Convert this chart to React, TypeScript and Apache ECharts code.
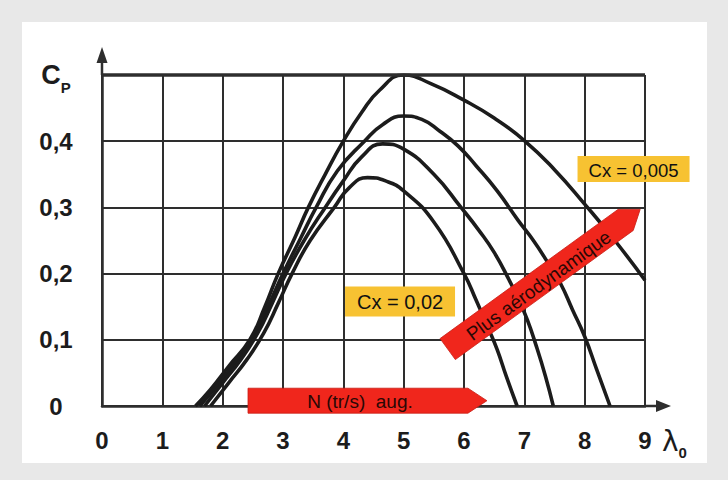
import React, { useEffect, useRef } from 'react';
import * as echarts from 'echarts';

// ---------- data ----------
const lambdaTicks = [0, 1, 2, 3, 4, 5, 6, 7, 8, 9];
const cpTickLabels = ['0', '0,1', '0,2', '0,3', '0,4', 'Cp'];

// Cp(λ0) curves (λ0, Cp)
const curveCx0005: [number, number][] = [
  [1.55, 0], [1.8, 0.025], [2.1, 0.06], [2.45, 0.1], [2.7, 0.15], [2.92, 0.2], [3.2, 0.255],
  [3.42, 0.3], [3.7, 0.35], [4.0, 0.4], [4.3, 0.443], [4.6, 0.477], [5.0, 0.5], [5.45, 0.487],
  [6.0, 0.462], [6.5, 0.435], [7.0, 0.401], [7.5, 0.357], [8.0, 0.305], [8.5, 0.25], [9.0, 0.19],
];
const curveB: [number, number][] = [
  [1.62, 0], [1.9, 0.03], [2.2, 0.065], [2.5, 0.105], [2.75, 0.15], [3.0, 0.2], [3.3, 0.255],
  [3.55, 0.3], [3.9, 0.355], [4.35, 0.4], [4.65, 0.425], [5.0, 0.438], [5.3, 0.433], [5.6, 0.415],
  [5.9, 0.393], [6.2, 0.363], [6.55, 0.325], [6.9, 0.28], [7.15, 0.25], [7.4, 0.215], [7.6, 0.185],
  [7.8, 0.145], [8.0, 0.105], [8.2, 0.055], [8.42, 0],
];
const curveC: [number, number][] = [
  [1.7, 0], [2.0, 0.035], [2.3, 0.07], [2.58, 0.11], [2.82, 0.155], [3.05, 0.2], [3.35, 0.25],
  [3.7, 0.3], [4.0, 0.34], [4.3, 0.376], [4.65, 0.396], [5.0, 0.388], [5.5, 0.35], [5.95, 0.3],
  [6.25, 0.265], [6.5, 0.232], [6.75, 0.19], [6.9, 0.162], [7.05, 0.13], [7.2, 0.09], [7.35, 0.045],
  [7.48, 0],
];
const curveCx002: [number, number][] = [
  [1.8, 0], [2.1, 0.035], [2.4, 0.07], [2.68, 0.11], [2.92, 0.155], [3.15, 0.2], [3.45, 0.25],
  [3.85, 0.3], [4.1, 0.33], [4.4, 0.345], [4.7, 0.34], [5.0, 0.325], [5.5, 0.278], [6.0, 0.2],
  [6.2, 0.16], [6.4, 0.118], [6.55, 0.085], [6.7, 0.045], [6.88, 0],
];

// annotations, anchored in data coordinates (λ0, Cp)
const labelCx0005 = { text: 'Cx = 0,005', at: [8.81, 0.358] as [number, number] };
const labelCx002 = { text: 'Cx = 0,02', at: [4.94, 0.158] as [number, number] };
const arrowN = { text: 'N (tr/s)  aug.', from: [2.42, 0.008] as [number, number], to: [6.38, 0.008] as [number, number] };
const arrowAero = { text: 'Plus aérodynamique', from: [5.73, 0.086] as [number, number], to: [8.92, 0.297] as [number, number] };

const INK = '#1c1c1c';
const GRIDC = '#2e2e2e';
const RED = '#f0261c';
const YELLOW = '#f7c232';
const TICKF = "'Liberation Sans',Arial,sans-serif";
const ARIAL = "'Liberation Sans',Arial,sans-serif";

export default function App() {
  const ref = useRef<HTMLDivElement>(null);

  useEffect(() => {
    const chart = echarts.init(ref.current!, null, { renderer: 'svg' });
    const curveStyle = { color: INK, width: 3.6 };
    const mk = (name: string, data: [number, number][]) => ({
      type: 'line', name, data, showSymbol: false, smooth: 0.5,
      lineStyle: curveStyle, z: 3, silent: true,
    });
    chart.setOption({
      animation: false,
      grid: { left: 102, right: 83, top: 75, bottom: 74, containLabel: false, outerBoundsMode: 'none' },
      xAxis: {
        type: 'value', min: 0, max: 9, interval: 1,
        axisLine: { show: true, lineStyle: { color: GRIDC, width: 2.5 } },
        axisTick: { show: false },
        splitLine: { show: true, lineStyle: { color: GRIDC, width: 2 } },
        axisLabel: {
          margin: 22, color: INK, fontFamily: TICKF, fontWeight: 'bold', fontSize: 24,
          formatter: (v: number) => String(lambdaTicks[Math.round(v)]),
        },
      },
      yAxis: {
        type: 'value', min: 0, max: 0.5, interval: 0.1,
        axisLine: { show: true, lineStyle: { color: GRIDC, width: 2.5 } },
        axisTick: { show: false },
        splitLine: { show: true, lineStyle: { color: GRIDC, width: 2 } },
        axisLabel: {
          margin: 46, align: 'center', color: INK, fontFamily: TICKF, fontWeight: 'bold', fontSize: 24,
          formatter: (v: number) => {
            const i = Math.round(v * 10);
            return i === 5 ? '{c|C}{p|P}' : cpTickLabels[i];
          },
          rich: {
            c: { fontFamily: TICKF, fontWeight: 'bold', fontSize: 27, color: INK, lineHeight: 28 },
            p: { fontFamily: TICKF, fontWeight: 'bold', fontSize: 15, color: INK, lineHeight: 40, verticalAlign: 'bottom' },
          },
        },
      },
      series: [
        mk('Cx = 0,005', curveCx0005),
        mk('B', curveB),
        mk('C', curveC),
        mk('Cx = 0,02', curveCx002),
      ],
    });

    const px = (p: [number, number]) => chart.convertToPixel({ gridIndex: 0 }, p) as number[];
    const o = px([0, 0]);
    const tr = px([9, 0.5]);
    const xEnd = px([9, 0]);
    const g: any[] = [];

    // thick top border
    g.push({ type: 'line', shape: { x1: o[0], y1: tr[1], x2: tr[0], y2: tr[1] }, style: { stroke: GRIDC, lineWidth: 3.5 }, z: 5 });
    // axis arrows
    g.push({ type: 'line', shape: { x1: o[0], y1: tr[1], x2: o[0], y2: tr[1] - 16 }, style: { stroke: GRIDC, lineWidth: 2.5 }, z: 5 });
    g.push({ type: 'polygon', shape: { points: [[o[0], tr[1] - 28], [o[0] - 5.5, tr[1] - 12], [o[0] + 5.5, tr[1] - 12]] }, style: { fill: GRIDC }, z: 5 });
    g.push({ type: 'line', shape: { x1: xEnd[0], y1: o[1], x2: xEnd[0] + 14, y2: o[1] }, style: { stroke: GRIDC, lineWidth: 2.5 }, z: 5 });
    g.push({ type: 'polygon', shape: { points: [[xEnd[0] + 26, o[1]], [xEnd[0] + 11, o[1] - 6], [xEnd[0] + 11, o[1] + 6]] }, style: { fill: GRIDC }, z: 5 });
    // λ0 axis name
    g.push({
      type: 'text', x: xEnd[0] + 17, y: o[1] + 35, z: 5,
      style: {
        text: '{l|λ}{s|0}', verticalAlign: 'middle', align: 'left',
        rich: {
          l: { fontFamily: "'DejaVu Sans',sans-serif", fontSize: 28, fill: INK, lineHeight: 28 },
          s: { fontFamily: TICKF, fontWeight: 'bold', fontSize: 15, fill: INK, lineHeight: 38, verticalAlign: 'bottom' },
        },
      },
    });

    // yellow labels
    const box = (lab: { text: string; at: [number, number] }, w: number, h: number, fs: number) => {
      const c = px(lab.at);
      g.push({ type: 'rect', shape: { x: c[0] - w / 2, y: c[1] - h / 2, width: w, height: h }, style: { fill: YELLOW }, z: 10 });
      g.push({ type: 'text', x: c[0], y: c[1] + 1, z: 11, style: { text: lab.text, align: 'center', verticalAlign: 'middle', fontFamily: ARIAL, fontSize: fs, fill: '#111' } });
    };
    box(labelCx0005, 112, 26, 18.5);
    box(labelCx002, 110, 30, 20);

    // red arrows
    const arrow = (a: { text: string; from: [number, number]; to: [number, number] }, w: number, head: number, fs: number) => {
      const t = px(a.from);
      const p = px(a.to);
      const dx = p[0] - t[0], dy = p[1] - t[1];
      const L = Math.hypot(dx, dy);
      const ux = dx / L, uy = dy / L;
      const nx = -uy * w / 2, ny = ux * w / 2;
      const sx = p[0] - ux * head, sy = p[1] - uy * head;
      g.push({
        type: 'polygon', z: 10,
        shape: { points: [[t[0] + nx, t[1] + ny], [sx + nx, sy + ny], [p[0], p[1]], [sx - nx, sy - ny], [t[0] - nx, t[1] - ny]] },
        style: { fill: RED, stroke: '#c81d14', lineWidth: 0.8 },
      });
      g.push({
        type: 'text', x: (t[0] + sx) / 2 + 2, y: (t[1] + sy) / 2 + 1, rotation: Math.atan2(-dy, dx), z: 11,
        style: { text: a.text, align: 'center', verticalAlign: 'middle', fontFamily: ARIAL, fontSize: fs, fill: '#2a0805' },
      });
    };
    arrow(arrowN, 25, 19, 19);
    arrow(arrowAero, 26, 18, 19);

    chart.setOption({ graphic: g });
    return () => chart.dispose();
  }, []);

  return (
    <div style={{ position: 'fixed', left: 0, top: 0, width: 728, height: 480, background: '#e8e8e8' }}>
      <div style={{ position: 'absolute', left: 22, top: 22, width: 685, height: 441, background: '#ffffff' }} />
      <div ref={ref} style={{ position: 'absolute', left: 0, top: 0, width: 728, height: 480 }} />
    </div>
  );
}
